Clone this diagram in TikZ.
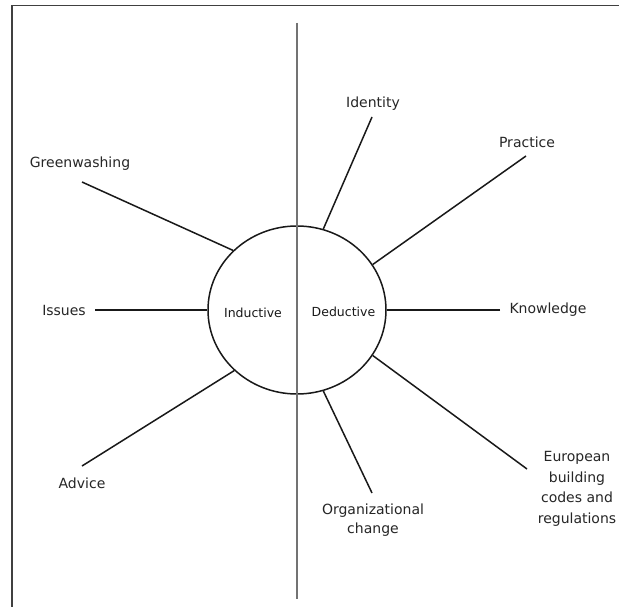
\documentclass[tikz,border=0pt]{standalone}
\usepackage{fontspec}
\usetikzlibrary{shapes.geometric}
\newfontfamily\lblfont{DejaVu Sans}
\begin{document}
\begin{tikzpicture}[x=1pt,y=-1pt,
  lbl/.style={font=\lblfont\fontsize{14}{18.7}\selectfont, text=black!85, inner sep=0pt, align=center},
  inner/.style={font=\lblfont\fontsize{12.5}{15}\selectfont, text=black!90, inner sep=0pt},
  spoke/.style={draw=black!90, line width=1.5pt},
  hub/.style={ellipse, draw=black!90, line width=1.5pt, minimum width=178pt, minimum height=168pt, inner sep=0pt}
]
\useasboundingbox (0,0) rectangle (619,607);
\fill[white] (0,0) rectangle (619,607);

% outer frame (top and left edges)
\draw[black!75, line width=1.5pt] (619,5.5) -- (12,5.5) -- (12,607);

% central circle
\node[hub] (hub) at (297,310) {};

% dividing line
\coordinate (divTop) at (297,23);
\coordinate (divBot) at (297,599);
\draw[black!55, line width=2.4pt] (divTop) -- (divBot);

% approaches
\node[inner] (ind) at (253,313) {Inductive};
\node[inner] (ded) at (343.5,312) {Deductive};

% theme labels
\node[lbl] (gw)  at (80,164)  {Greenwashing};
\node[lbl] (iss) at (64,310)  {Issues};
\node[lbl] (adv) at (82,483)  {Advice};
\node[lbl] (idt) at (373,104) {Identity};
\node[lbl] (prc) at (527,142) {Practice};
\node[lbl] (knw) at (548,310) {Knowledge};
\node[lbl] (org) at (373,520) {Organizational\\change};
\node[lbl, font=\lblfont\fontsize{14}{20.5}\selectfont] (eur) at (577,489) {European\\building\\codes and\\regulations};

% spoke ends next to the labels
\coordinate (gwE)  at (82,182);
\coordinate (issE) at (95,310);
\coordinate (advE) at (82,466);
\coordinate (idtE) at (372,117);
\coordinate (prcE) at (526,156);
\coordinate (knwE) at (500,310);
\coordinate (orgE) at (372,493);
\coordinate (eurE) at (527,469);

% spokes
\draw[spoke] (gwE)  -- (hub.137);
\draw[spoke] (issE) -- (hub.180);
\draw[spoke] (advE) -- (hub.-136);
\draw[spoke] (idtE) -- (hub.72);
\draw[spoke] (prcE) -- (hub.31);
\draw[spoke] (knwE) -- (hub.0);
\draw[spoke] (orgE) -- (hub.-72);
\draw[spoke] (eurE) -- (hub.-31);
\end{tikzpicture}
\end{document}
